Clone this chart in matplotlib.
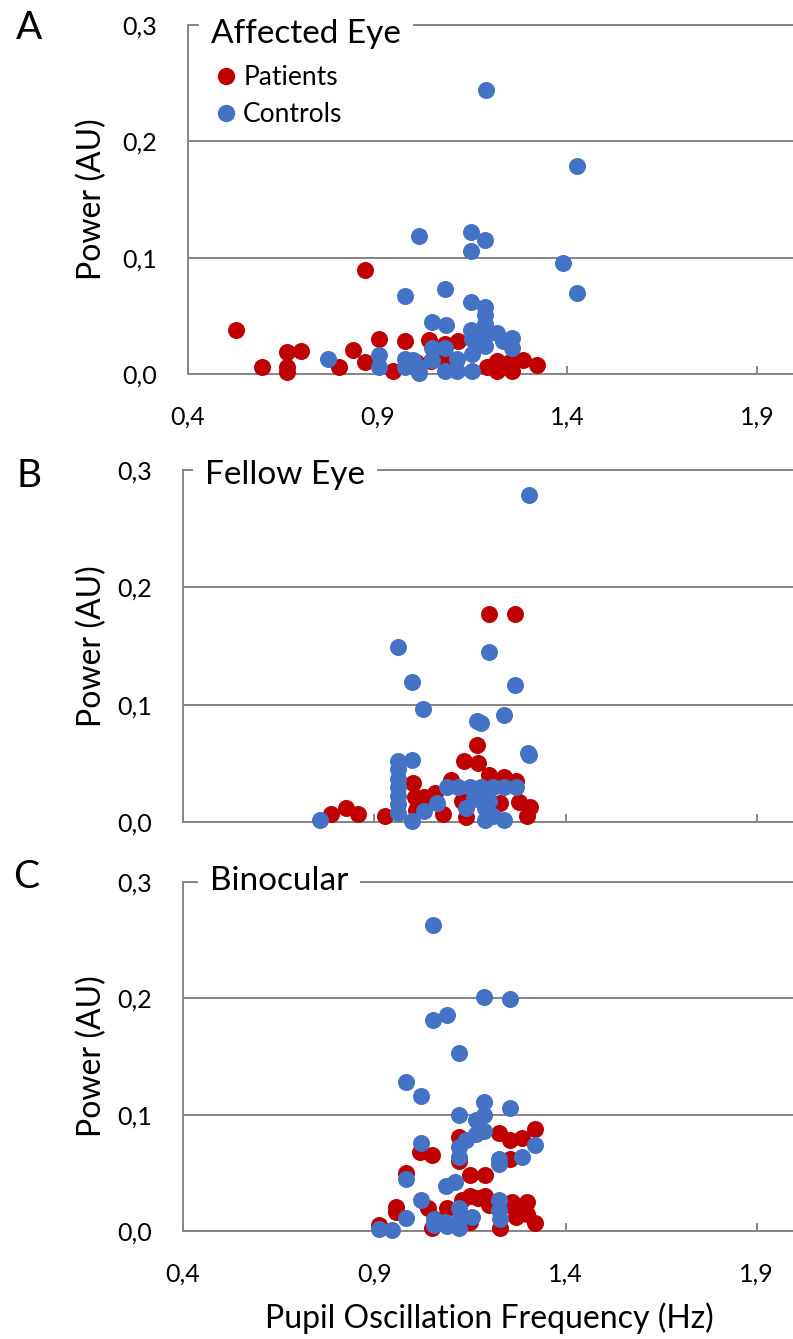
import matplotlib
matplotlib.use("Agg")
import matplotlib.pyplot as plt
from matplotlib.lines import Line2D

plt.rcParams['font.family'] = ['Lato', 'DejaVu Sans']

# ---------------- data ----------------
panel_letters = ["A", "B", "C"]
panel_titles = ["Affected Eye", "Fellow Eye", "Binocular"]
series_names = ["Patients", "Controls"]
x_ticks = [0.4, 0.9, 1.4, 1.9]
x_tick_labels = ["0,4", "0,9", "1,4", "1,9"]
y_ticks = [0.0, 0.1, 0.2, 0.3]
y_tick_labels = ["0,0", "0,1", "0,2", "0,3"]

# Panel A - Affected eye
a_pat_x = [0.526, 0.594, 0.660, 0.660, 0.660, 0.699, 0.799, 0.836, 0.867, 0.867,
           0.904, 0.941, 0.973, 1.034, 1.077, 1.113, 1.040, 1.075, 1.187, 1.214,
           1.214, 1.253, 1.284, 1.321, 1.250, 1.170, 1.000]
a_pat_y = [0.038, 0.006, 0.019, 0.006, 0.002, 0.020, 0.006, 0.021, 0.089, 0.010,
           0.030, 0.003, 0.028, 0.029, 0.026, 0.028, 0.011, 0.012, 0.006, 0.011,
           0.003, 0.003, 0.012, 0.008, 0.010, 0.030, 0.010]
a_ctl_x = [1.186, 1.426, 1.010, 1.146, 1.184, 1.146, 1.389, 1.426, 0.973, 1.078,
           1.146, 1.183, 1.183, 1.183, 1.183, 1.044, 1.079, 1.146, 1.214, 1.253,
           1.253, 1.183, 0.770, 0.904, 0.904, 0.972, 0.994, 1.010, 1.010, 1.044,
           1.078, 1.078, 1.108, 1.108, 1.148, 1.148, 0.972, 1.044, 1.148, 1.230]
a_ctl_y = [0.244, 0.179, 0.119, 0.122, 0.115, 0.106, 0.095, 0.070, 0.067, 0.073,
           0.062, 0.058, 0.051, 0.043, 0.033, 0.045, 0.042, 0.038, 0.035, 0.031,
           0.022, 0.024, 0.013, 0.016, 0.006, 0.013, 0.012, 0.006, 0.001, 0.022,
           0.022, 0.003, 0.013, 0.003, 0.017, 0.003, 0.006, 0.012, 0.030, 0.028]

# Panel B - Fellow eye
b_pat_x = [1.199, 1.267, 1.169, 1.134, 1.170, 1.240, 1.270, 1.100, 1.000, 1.006,
           1.030, 0.929, 0.787, 0.826, 0.858, 1.080, 1.308, 1.300, 1.278, 1.140,
           1.130, 1.230, 1.010, 1.060, 1.200]
b_pat_y = [0.177, 0.177, 0.066, 0.052, 0.050, 0.038, 0.035, 0.036, 0.033, 0.021,
           0.021, 0.005, 0.007, 0.012, 0.007, 0.007, 0.013, 0.005, 0.017, 0.004,
           0.018, 0.016, 0.010, 0.025, 0.040]
b_ctl_x = [1.305, 0.961, 1.199, 0.998, 1.267, 1.028, 1.169, 1.180, 1.239, 1.301,
           1.305, 0.961, 0.961, 0.961, 0.961, 0.961, 0.961, 0.961, 0.998, 0.757,
           0.999, 1.065, 1.030, 1.090, 1.120, 1.150, 1.180, 1.210, 1.240, 1.270,
           1.160, 1.190, 1.210, 1.190, 1.238, 1.140, 1.170, 1.200]
b_ctl_y = [0.279, 0.149, 0.145, 0.119, 0.117, 0.096, 0.086, 0.084, 0.091, 0.059,
           0.057, 0.052, 0.045, 0.037, 0.030, 0.022, 0.015, 0.008, 0.053, 0.002,
           0.001, 0.016, 0.009, 0.030, 0.030, 0.030, 0.030, 0.030, 0.030, 0.030,
           0.020, 0.012, 0.005, 0.002, 0.002, 0.012, 0.025, 0.018]

# Panel C - Binocular
c_pat_x = [1.321, 1.286, 1.226, 1.256, 1.121, 1.052, 1.020, 1.256, 1.121, 0.984,
           1.150, 1.190, 1.150, 1.190, 0.956, 0.956, 1.040, 1.260, 1.300, 1.300,
           1.320, 1.230, 1.150, 1.050, 0.913, 1.090, 1.130, 1.170, 1.270, 1.265,
           1.200, 1.060]
c_pat_y = [0.088, 0.080, 0.084, 0.078, 0.081, 0.065, 0.068, 0.062, 0.060, 0.050,
           0.048, 0.048, 0.030, 0.030, 0.021, 0.016, 0.020, 0.025, 0.025, 0.015,
           0.007, 0.003, 0.008, 0.003, 0.005, 0.020, 0.027, 0.028, 0.012, 0.020,
           0.022, 0.010]
c_ctl_x = [1.054, 1.187, 1.254, 1.054, 1.091, 1.121, 0.984, 1.022, 1.187, 1.254,
           1.121, 1.165, 1.187, 1.187, 1.165, 1.140, 1.121, 1.121, 1.321, 1.286,
           1.226, 1.226, 1.022, 0.984, 1.087, 1.110, 1.022, 0.984, 0.913, 0.946,
           1.056, 1.085, 1.121, 1.121, 1.155, 1.226, 1.226, 1.230, 1.056, 1.090,
           1.121]
c_ctl_y = [0.263, 0.201, 0.199, 0.181, 0.186, 0.153, 0.128, 0.116, 0.111, 0.106,
           0.100, 0.095, 0.100, 0.086, 0.083, 0.078, 0.072, 0.064, 0.074, 0.064,
           0.062, 0.058, 0.076, 0.045, 0.039, 0.042, 0.027, 0.011, 0.002, 0.001,
           0.010, 0.008, 0.020, 0.010, 0.012, 0.027, 0.018, 0.010, 0.005, 0.004,
           0.003]

panels = [
    (a_pat_x, a_pat_y, a_ctl_x, a_ctl_y),
    (b_pat_x, b_pat_y, b_ctl_x, b_ctl_y),
    (c_pat_x, c_pat_y, c_ctl_x, c_ctl_y),
]

# ---------------- style ----------------
RED = "#C00000"
BLUE = "#4472C4"
GRID = "#868686"
W, H = 793, 1339
fig = plt.figure(figsize=(W / 100, H / 100), dpi=100)

# axes rectangles in pixels: left, top, right, bottom
rects = [(188, 25, 795, 374), (183, 470, 795, 822), (183, 882, 795, 1231)]
title_x_px = [211, 205, 210]
title_base_px = [18, 14, 8]     # baseline offset below top line, px
letter_pos = [(29, 28), (29, 476), (26, 877)]
MS = 150

for i, ((px, py, cx, cy), (l, t, r, b)) in enumerate(zip(panels, rects)):
    ax = fig.add_axes([l / W, 1 - b / H, (r - l) / W, (b - t) / H])
    ax.set_xlim(0.4, 2.0)
    ax.set_ylim(0.0, 0.3)
    ax.scatter(px, py, s=MS, color=RED, linewidths=0, zorder=3, clip_on=False)
    ax.scatter(cx, cy, s=MS, color=BLUE, linewidths=0, zorder=4, clip_on=False)

    for side in ["left", "bottom", "top"]:
        ax.spines[side].set_color(GRID)
        ax.spines[side].set_linewidth(1.4)
    ax.spines["right"].set_visible(False)
    ax.set_yticks(y_ticks)
    ax.set_yticklabels(y_tick_labels)
    ax.set_xticks(x_ticks)
    ax.yaxis.grid(True, color=GRID, linewidth=1.4)
    ax.set_axisbelow(True)
    ax.tick_params(axis="y", direction="out", length=0, pad=22, labelsize=18)
    ax.tick_params(axis="x", direction="in", length=6, width=1.4, color=GRID,
                   pad=23, labelsize=18)
    if i == 1:
        ax.set_xticklabels([])
    else:
        ax.set_xticklabels(x_tick_labels)
    ax.set_ylabel("Power (AU)", fontsize=23, va="center")
    ax.yaxis.set_label_coords((92 - l) / (r - l), 0.5)

    tx = 0.4 + (title_x_px[i] - l) / (r - l) * 1.6
    ty = 0.3 - title_base_px[i] / (b - t) * 0.3
    ax.text(tx, ty, panel_titles[i], fontsize=24, ha="left", va="baseline",
            zorder=5, clip_on=False,
            bbox=dict(boxstyle="square,pad=0.35", fc="white", ec="none"))
    fig.text(letter_pos[i][0] / W, 1 - letter_pos[i][1] / H, panel_letters[i],
             fontsize=28, ha="center", va="center")

    if i == 0:
        handles = [Line2D([], [], marker="o", linestyle="none", markersize=12.5,
                          markerfacecolor=RED, markeredgewidth=0),
                   Line2D([], [], marker="o", linestyle="none", markersize=12.5,
                          markerfacecolor=BLUE, markeredgewidth=0)]
        ax.legend(handles, series_names, loc="upper left",
                  bbox_to_anchor=(0.043, 0.885), frameon=False, fontsize=19,
                  borderpad=0, borderaxespad=0, handlelength=0.9,
                  handletextpad=0.2, labelspacing=0.45)
    if i == 2:
        ax.set_xlabel("Pupil Oscillation Frequency (Hz)", fontsize=23,
                      labelpad=12)

fig.savefig("out.png", dpi=100)
